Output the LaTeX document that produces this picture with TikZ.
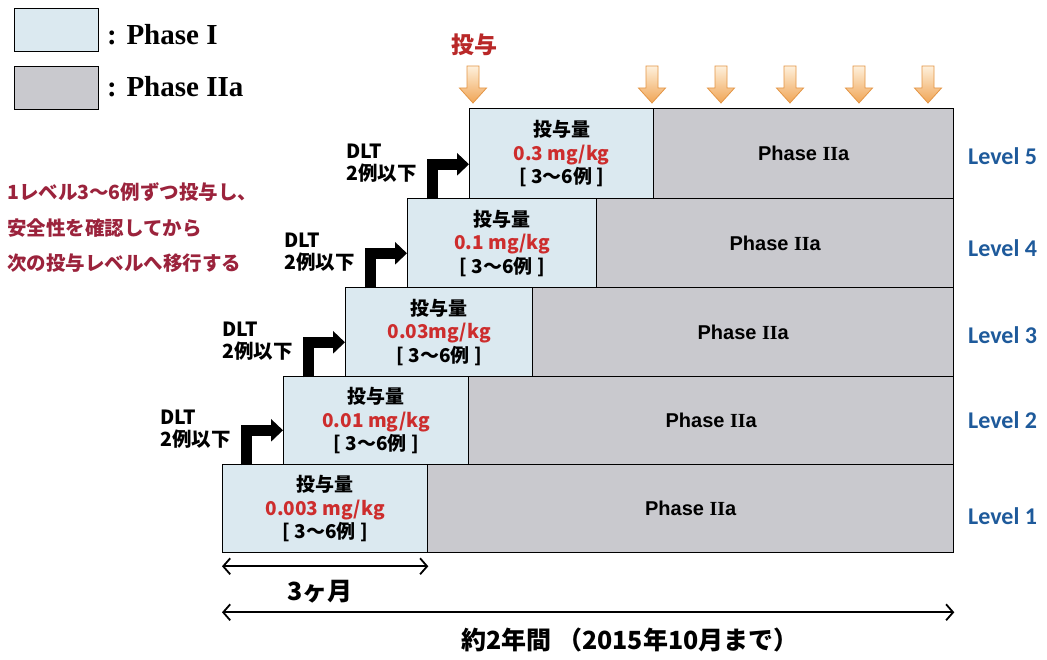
\documentclass[tikz,border=0pt]{standalone}
\usepackage{fontspec}
\setmainfont{Liberation Serif}
\newfontfamily\jp{Noto Sans CJK JP}
\newfontfamily\lvfont{Carlito}
\newfontfamily\arialf{Liberation Sans}
\usetikzlibrary{arrows.meta}
\definecolor{p1fill}{RGB}{219,233,240}
\definecolor{p2fill}{RGB}{201,201,206}
\definecolor{lvblue}{RGB}{30,90,155}
\definecolor{dosered}{RGB}{205,45,45}
\definecolor{notered}{RGB}{155,35,60}
\definecolor{toyored}{RGB}{185,40,40}
\definecolor{orgtop}{RGB}{254,240,220}
\definecolor{orgbot}{RGB}{240,165,85}
\definecolor{orgline}{RGB}{228,150,70}
\begin{document}
\begin{tikzpicture}[x=1pt,y=-1pt,
 p1box/.style={draw=black, line width=1.3pt, fill=p1fill, anchor=north west, inner sep=0pt, align=center, font=\jp\bfseries\fontsize{19}{23.5}\selectfont},
 p2box/.style={draw=black, line width=1.3pt, fill=p2fill, anchor=north west, inner sep=0pt, font=\arialf\bfseries\fontsize{20}{24}\selectfont},
 lvl/.style={font=\lvfont\bfseries\fontsize{24}{28}\selectfont, text=lvblue, anchor=west, inner sep=0pt},
 dlt/.style={font=\jp\bfseries\fontsize{19.5}{22}\selectfont, anchor=west, inner sep=0pt, align=left},
 bent/.style={draw=black, line width=11.5pt, line join=miter, -{Triangle[length=12pt,width=22pt]}},
 dim/.style={draw=black, line width=1.8pt, {Straight Barb[length=7pt,width=16pt]}-{Straight Barb[length=7pt,width=16pt]}},
 legbox/.style={draw=black, line width=1.3pt, minimum width=84pt, minimum height=43pt, anchor=north west, inner sep=0pt},
 legtext/.style={anchor=west, inner sep=0pt, font=\bfseries\fontsize{29}{32}\selectfont},
 note/.style={anchor=west, inner sep=0pt, text=notered, font=\jp\bfseries\fontsize{19.5}{22}\selectfont},
 bottomtext/.style={font=\jp\bfseries\fontsize{25}{28}\selectfont},
 dosearrow/.style={top color=orgtop, bottom color=orgbot, draw=orgline, line width=0.8pt},
]
\useasboundingbox (0,0) rectangle (1047,660);
\fill[white] (0,0) rectangle (1047,660);

% legend
\node[legbox, fill=p1fill] (lg1) at (14,8) {};
\node[legbox, fill=p2fill] (lg2) at (14,66) {};
\node[legtext] (lgt1) at (107,35) {: Phase I};
\node[legtext] (lgt2) at (107,87) {: Phase IIa};

% note
\node[note] (n1) at (7,192) {1レベル3～6例ずつ投与し、};
\node[note] (n2) at (7,228) {安全性を確認してから};
\node[note] (n3) at (7,263) {次の投与レベルへ移行する};

% level 1
\node[p1box, minimum width=205pt, minimum height=88pt] (p1L1) at (222,464)
 {投与量\\{\color{dosered}0.003 mg/kg}\\{[} 3～6例 {]}};
\node[p2box, minimum width=526pt, minimum height=88pt] (p2L1) at (427,464) {Phase {\rmfamily II}a};
% level 2
\node[p1box, minimum width=185pt, minimum height=88pt] (p1L2) at (283,376)
 {投与量\\{\color{dosered}0.01 mg/kg}\\{[} 3～6例 {]}};
\node[p2box, minimum width=485pt, minimum height=88pt] (p2L2) at (468,376) {Phase {\rmfamily II}a};
% level 3
\node[p1box, minimum width=187pt, minimum height=89pt] (p1L3) at (345,287)
 {投与量\\{\color{dosered}0.03mg/kg}\\{[} 3～6例 {]}};
\node[p2box, minimum width=421pt, minimum height=89pt] (p2L3) at (532,287) {Phase {\rmfamily II}a};
% level 4
\node[p1box, minimum width=189pt, minimum height=89pt] (p1L4) at (407,198)
 {投与量\\{\color{dosered}0.1 mg/kg}\\{[} 3～6例 {]}};
\node[p2box, minimum width=357pt, minimum height=89pt] (p2L4) at (596,198) {Phase {\rmfamily II}a};
% level 5
\node[p1box, minimum width=184pt, minimum height=90pt] (p1L5) at (469,108)
 {投与量\\{\color{dosered}0.3 mg/kg}\\{[} 3～6例 {]}};
\node[p2box, minimum width=300pt, minimum height=90pt] (p2L5) at (653,108) {Phase {\rmfamily II}a};

% level labels
\node[lvl] (lv5) at (968,156) {Level 5};
\node[lvl] (lv4) at (968,248) {Level 4};
\node[lvl] (lv3) at (968,335) {Level 3};
\node[lvl] (lv2) at (968,420) {Level 2};
\node[lvl] (lv1) at (968,516) {Level 1};

% DLT labels and bent arrows
\foreach \i/\L/\B in {2/283/464, 3/345/376, 4/407/287, 5/469/198}{
  \node[dlt] (dlt\i) at (\L-123,\B-35) {DLT\\2例以下};
  \draw[bent] ([xshift=-36.5pt]p1L\i.south west) |- ([yshift=35pt]p1L\i.south west);
}

% dosing arrows
\node[text=toyored, font=\jp\bfseries\fontsize{23}{26}\selectfont] (toyo) at (474,45) {投与};
\foreach \cx in {473,652,721,790,859,928}{
  \shadedraw[dosearrow] (\cx-6,66) -- (\cx+6,66) -- (\cx+6,88) -- (\cx+13.5,88)
    -- (\cx,103) -- (\cx-13.5,88) -- (\cx-6,88) -- cycle;
}

% time spans
\draw[dim] ([yshift=-13pt]p1L1.south west) -- ([yshift=-13pt]p1L1.south east);
\node[bottomtext] (m3) at (320,592) {3ヶ月};
\draw[dim] ([yshift=-59pt]p1L1.south west) -- ([yshift=-59pt]p2L1.south east);
\node[bottomtext] (y2) at (630,640) {約2年間 （2015年10月まで）};
\end{tikzpicture}
\end{document}
